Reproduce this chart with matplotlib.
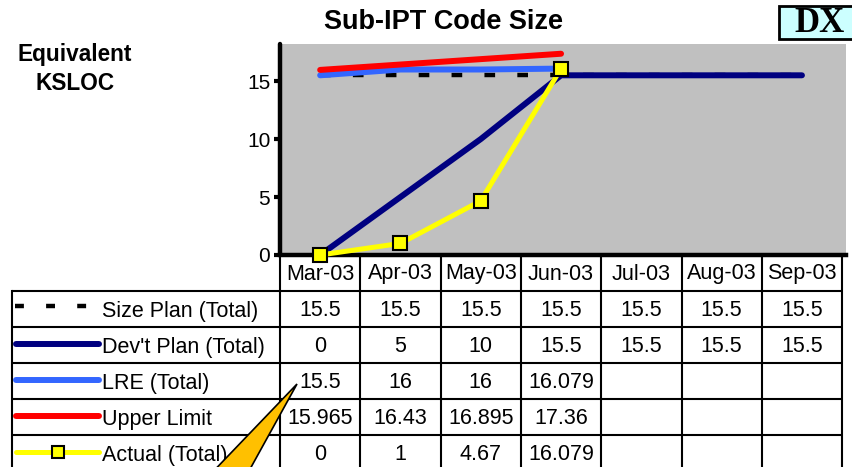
import matplotlib
matplotlib.use('Agg')
import matplotlib.pyplot as plt
from matplotlib.patches import Polygon, Rectangle
import numpy as np

plt.rcParams['font.family'] = ['Liberation Sans', 'DejaVu Sans']

# data
months = ['Mar-03', 'Apr-03', 'May-03', 'Jun-03', 'Jul-03', 'Aug-03', 'Sep-03']
size_plan = [15.5, 15.5, 15.5, 15.5, 15.5, 15.5, 15.5]
devt_plan = [0, 5, 10, 15.5, 15.5, 15.5, 15.5]
lre = [15.5, 16, 16, 16.079]
upper_limit = [15.965, 16.43, 16.895, 17.36]
actual = [0, 1, 4.67, 16.079]

series_names = ['Size Plan (Total)', "Dev't Plan (Total)", 'LRE (Total)', 'Upper Limit', 'Actual (Total)']
series_vals = [size_plan, devt_plan, lre, upper_limit, actual]
series_text = [
    ['15.5'] * 7,
    ['0', '5', '10', '15.5', '15.5', '15.5', '15.5'],
    ['15.5', '16', '16', '16.079'],
    ['15.965', '16.43', '16.895', '17.36'],
    ['0', '1', '4.67', '16.079'],
]

W, H = 852, 467
fig = plt.figure(figsize=(W / 100, H / 100), dpi=100)

# plot area (pixel coords converted to figure fractions)
px_l, px_r, px_t, px_b = 280, 846, 44, 255
ax = fig.add_axes([px_l / W, 1 - px_b / H, (px_r - px_l) / W, (px_b - px_t) / H])
ax.set_facecolor('#C0C0C0')
ncat = len(months)
colw = 80.3
ax.set_xlim(-0.5, -0.5 + (px_r - px_l) / colw)
ax.set_ylim(0, 18.2)

x = np.arange(ncat)
lw = 4.3
styles = [
    dict(color='black', lw=3.2, dashes=(2.4, 5.0), dash_capstyle='butt'),
    dict(color='#000080', lw=lw, solid_capstyle='round'),
    dict(color='#3366FF', lw=lw, solid_capstyle='round'),
    dict(color='#FF0000', lw=lw, solid_capstyle='round'),
    dict(color='#FFFF00', lw=3.6, solid_capstyle='round', marker='s', markersize=10,
         markerfacecolor='#FFFF00', markeredgecolor='black', markeredgewidth=1.5),
]
for vals, st in zip(series_vals, styles):
    ax.plot(x[:len(vals)], vals, clip_on=(st.get('marker') is None), zorder=3, **st)

ax.set_yticks([0, 5, 10, 15])
ax.set_xticks([])
ax.tick_params(axis='y', direction='out', length=4, width=3, labelsize=15, pad=3)
for s in ['top', 'right']:
    ax.spines[s].set_visible(False)
ax.spines['left'].set_linewidth(3.2)
ax.spines['bottom'].set_linewidth(3.2)
ax.spines['left'].set_capstyle('round')

# overlay in pixel coordinates for the data table and annotations
ov = fig.add_axes([0, 0, 1, 1], zorder=5)
ov.set_xlim(0, W)
ov.set_ylim(H, 0)
ov.axis('off')
ov.patch.set_alpha(0)

tab_l = 12
col_edges = [px_l + k * colw for k in range(ncat + 1)]
hdr_top, tab_top, rowh = 257, 291, 36
row_edges = [tab_top + k * rowh for k in range(len(series_names) + 1)]
tlw = 1.5
fs = 15.5

# header column separators and labels
for xe in col_edges:
    ov.plot([xe, xe], [hdr_top, H + 5], color='black', lw=tlw, solid_capstyle='butt')
for k, m in enumerate(months):
    ov.text((col_edges[k] + col_edges[k + 1]) / 2, 274, m, ha='center', va='center', fontsize=fs)

ov.plot([tab_l, tab_l], [tab_top, H + 5], color='black', lw=tlw)
for ye in row_edges:
    ov.plot([tab_l, col_edges[-1]], [ye, ye], color='black', lw=tlw, solid_capstyle='butt')

# legend keys + labels + values
for r, (name, txts, st) in enumerate(zip(series_names, series_text, styles)):
    yc = (row_edges[r] + row_edges[r + 1]) / 2
    key = {k: v for k, v in st.items() if not k.startswith('marker')}
    if 'dashes' in key:
        key['dashes'] = (2.0, 5.0)
        ov.plot([15, 87], [yc - 3, yc - 3], **key)
    else:
        ov.plot([16, 99], [yc - 1, yc - 1], **key)
    if st.get('marker'):
        ov.plot([58], [yc - 1], marker='s', markersize=9, markerfacecolor='#FFFF00',
                markeredgecolor='black', markeredgewidth=1.5, linestyle='none')
    ov.text(102, yc + 2, name, ha='left', va='center', fontsize=fs)
    for k, t in enumerate(txts):
        ov.text((col_edges[k] + col_edges[k + 1]) / 2, yc + 1, t, ha='center', va='center', fontsize=fs)

# callout wedge pointing at the LRE value
ov.add_patch(Polygon([(297, 384), (205, 480), (244, 480)], closed=True,
                     facecolor='#FFC000', edgecolor='black', lw=1.2, zorder=6))

# titles
fig.text(444 / W, 1 - 22 / H, 'Sub-IPT Code Size', ha='center', va='center',
         fontsize=19.5, fontweight='bold')
fig.text(75 / W, 1 - 55 / H, 'Equivalent', ha='center', va='center', fontsize=16.3, fontweight='bold')
fig.text(75 / W, 1 - 83 / H, 'KSLOC', ha='center', va='center', fontsize=16.3, fontweight='bold')

# DX badge
ov.add_patch(Rectangle((779, 6), 80, 33, facecolor='#CCFFFF', edgecolor='black', lw=2, zorder=6))
ov.text(820, 24, 'DX', ha='center', va='center', fontsize=25, fontweight='bold',
        family=['Liberation Serif', 'DejaVu Serif'], zorder=7)

fig.savefig('out.png', dpi=100)
